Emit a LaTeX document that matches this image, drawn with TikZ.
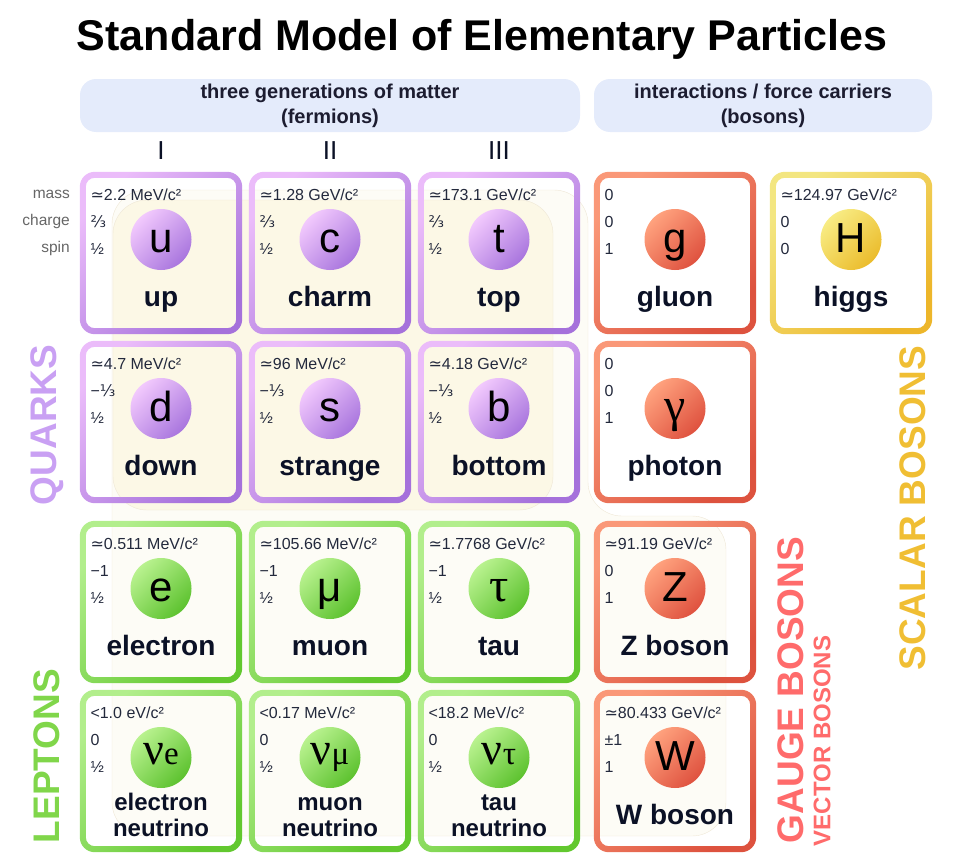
\documentclass[tikz,border=0pt]{standalone}
\usepackage{fontspec}
\setmainfont{Liberation Sans}
\newfontfamily\symfont{DejaVu Sans}
\newfontfamily\greekfont{Liberation Serif}

\definecolor{quarkedgehi}{HTML}{EBBCFA}
\definecolor{quarkedgelo}{HTML}{A571DB}
\definecolor{quarkhi}{HTML}{F2C9FD}
\definecolor{quarklo}{HTML}{A976DE}
\definecolor{leptonedgehi}{HTML}{B2EE8C}
\definecolor{leptonedgelo}{HTML}{62C82F}
\definecolor{leptonhi}{HTML}{B9F28F}
\definecolor{leptonlo}{HTML}{5DC22F}
\colorlet{nuedgehi}{leptonedgehi}
\colorlet{nuedgelo}{leptonedgelo}
\definecolor{gaugeedgehi}{HTML}{FA9878}
\definecolor{gaugeedgelo}{HTML}{DD523E}
\definecolor{gaugehi}{HTML}{FFA27E}
\definecolor{gaugelo}{HTML}{DF523F}
\definecolor{higgsedgehi}{HTML}{F3E681}
\definecolor{higgsedgelo}{HTML}{EDB62A}
\definecolor{higgshi}{HTML}{F8EC84}
\definecolor{higgslo}{HTML}{EBBC2C}
\definecolor{ink}{HTML}{0B1126}
\definecolor{headink}{HTML}{1C1C30}
\definecolor{headfill}{HTML}{E4EBFB}
\definecolor{quarktag}{HTML}{C9A0F3}
\definecolor{leptontag}{HTML}{80D64A}
\definecolor{gaugetag}{HTML}{FF6B6B}
\definecolor{higgstag}{HTML}{F0BE33}
\definecolor{strongbg}{HTML}{FCF8E6}
\definecolor{weakbg}{HTML}{FDFCF6}
\definecolor{bgline}{HTML}{EFE7D6}

\newcommand{\approxto}{{\symfont ≃}}
\newcommand{\frc}[1]{{\symfont #1}}
\newcommand{\gsym}[1]{{\greekfont\fontsize{48}{48}\selectfont #1}}
\newcommand{\nusym}[1]{\raisebox{6pt}{\greekfont\fontsize{46}{46}\selectfont ν\fontsize{33}{33}\selectfont #1}}

% one particle card: name, x, y, family, mass, charge, spin, symbol, label
\newcommand{\pcell}[9]{%
  \node[cellbox] (#1) at (#2,#3) {};
  \shade[even odd rule, top color=#4edgehi, bottom color=#4edgelo, shading angle=45]
    [rounded corners=15pt] ([shift={(-3pt,3pt)}]#1.north west) rectangle ([shift={(3pt,-3pt)}]#1.south east)
    [rounded corners=9pt] ([shift={(3pt,-3pt)}]#1.north west) rectangle ([shift={(-3pt,3pt)}]#1.south east);
  \node[#4ball] (#1-sym) at ([yshift=13.5pt]#1.center) {#8};
  \node[prop] (#1-mass) at ([xshift=7.5pt,yshift=-26pt]#1.north west) {#5};
  \node[prop] (#1-charge) at ([xshift=7.5pt,yshift=-53pt]#1.north west) {#6};
  \node[prop] (#1-spin) at ([xshift=7.5pt,yshift=-80pt]#1.north west) {#7};
  \node[#4name] (#1-name) at ([yshift=-53pt]#1.center) {#9};
}

\begin{document}
\begin{tikzpicture}[
    x=1pt, y=-1pt,
    cellbox/.style={rectangle, minimum size=156pt, inner sep=0pt},
    ball/.style={circle, minimum size=61pt, inner sep=0pt, text height=26pt, text depth=0pt, font=\fontsize{42}{42}\selectfont},
    prop/.style={anchor=base west, inner sep=0pt, font=\fontsize{16}{18}\selectfont, text=ink!90},
    pname/.style={anchor=base, inner sep=0pt, font=\bfseries\fontsize{28}{30}\selectfont, text=ink},
    quarkball/.style={ball, top color=quarkhi, bottom color=quarklo, shading angle=45},
    quarkname/.style={pname},
    leptonball/.style={ball, top color=leptonhi, bottom color=leptonlo, shading angle=45},
    leptonname/.style={pname},
    nuball/.style={leptonball},
    nuname/.style={pname, align=center, font=\bfseries\fontsize{24}{26}\selectfont, yshift=-12pt},
    gaugeball/.style={ball, top color=gaugehi, bottom color=gaugelo, shading angle=45},
    gaugename/.style={pname},
    higgsball/.style={ball, top color=higgshi, bottom color=higgslo, shading angle=45},
    higgsname/.style={pname},
    headbox/.style={rectangle, rounded corners=16pt, fill=headfill, align=center, inner sep=0pt, font=\bfseries\fontsize{20}{25}\selectfont, text=headink},
    gen/.style={anchor=base, inner sep=0pt, font=\fontsize{26}{26}\selectfont, text=ink},
    side/.style={anchor=base east, inner sep=0pt, font=\fontsize{15.5}{18}\selectfont, text=black!60},
    tag/.style={rotate=90, inner sep=0pt, font=\bfseries\fontsize{37}{37}\selectfont}
  ]
  \useasboundingbox (0,0) rectangle (963,862);

  %Background
  \draw[bgline, fill=weakbg, rounded corners=34pt] (112,190) -- (588,190) -- (588,516) -- (726,516) -- (726,836) -- (112,836) -- cycle;
  \draw[bgline, fill=strongbg, rounded corners=34pt] (113,200) rectangle (553,510);

  %Title and headers
  \node[anchor=base, inner sep=0pt, font=\bfseries\fontsize{43}{43}\selectfont] (title) at (482,50) {Standard Model of Elementary Particles};
  \node[headbox, minimum width=500pt, minimum height=53pt] (fermions) at (330,105.5) {three generations of matter\\(fermions)};
  \node[headbox, minimum width=338pt, minimum height=53pt] (bosons) at (763,105.5) {interactions / force carriers\\(bosons)};
  \node[gen] (gen1) at (161,159) {I};
  \node[gen] (gen2) at (330,159) {II};
  \node[gen] (gen3) at (499,159) {III};
  \node[side] (mass) at (70,198) {mass};
  \node[side] (charge) at (70,225) {charge};
  \node[side] (spin) at (70,252) {spin};

  %Quarks
  \pcell{up}{161}{253}{quark}{\approxto2.2 MeV/c²}{\frc{⅔}}{½}{u}{up}
  \pcell{charm}{330}{253}{quark}{\approxto1.28 GeV/c²}{\frc{⅔}}{½}{c}{charm}
  \pcell{top}{499}{253}{quark}{\approxto173.1 GeV/c²}{\frc{⅔}}{½}{t}{top}
  \pcell{down}{161}{422}{quark}{\approxto4.7 MeV/c²}{−\frc{⅓}}{½}{d}{down}
  \pcell{strange}{330}{422}{quark}{\approxto96 MeV/c²}{−\frc{⅓}}{½}{s}{strange}
  \pcell{bottom}{499}{422}{quark}{\approxto4.18 GeV/c²}{−\frc{⅓}}{½}{b}{bottom}

  %Leptons
  \pcell{electron}{161}{602}{lepton}{\approxto0.511 MeV/c²}{−1}{½}{e}{electron}
  \pcell{muon}{330}{602}{lepton}{\approxto105.66 MeV/c²}{−1}{½}{μ}{muon}
  \pcell{tau}{499}{602}{lepton}{\approxto1.7768 GeV/c²}{−1}{½}{\gsym{τ}}{tau}
  \pcell{nue}{161}{771}{nu}{<1.0 eV/c²}{0}{½}{\nusym{e}}{electron\\neutrino}
  \pcell{numu}{330}{771}{nu}{<0.17 MeV/c²}{0}{½}{\nusym{μ}}{muon\\neutrino}
  \pcell{nutau}{499}{771}{nu}{<18.2 MeV/c²}{0}{½}{\nusym{τ}}{tau\\neutrino}

  %Bosons
  \pcell{gluon}{675}{253}{gauge}{0}{0}{1}{g}{gluon}
  \pcell{photon}{675}{422}{gauge}{0}{0}{1}{\gsym{γ}}{photon}
  \pcell{zboson}{675}{602}{gauge}{\approxto91.19 GeV/c²}{0}{1}{Z}{Z boson}
  \pcell{wboson}{675}{771}{gauge}{\approxto80.433 GeV/c²}{±1}{1}{W}{W boson}
  \pcell{higgs}{851}{253}{higgs}{\approxto124.97 GeV/c²}{0}{0}{H}{higgs}

  %Labels
  \node[tag, text=quarktag] (quarks) at (47,425) {QUARKS};
  \node[tag, text=leptontag] (leptons) at (47,756) {LEPTONS};
  \node[tag, text=gaugetag] (gauge) at (791,690) {GAUGE BOSONS};
  \node[tag, text=gaugetag, font=\bfseries\fontsize{24}{24}\selectfont] (vector) at (822,741) {VECTOR BOSONS};
  \node[tag, text=higgstag] (scalar) at (913,508) {SCALAR BOSONS};

\end{tikzpicture}
\end{document}
